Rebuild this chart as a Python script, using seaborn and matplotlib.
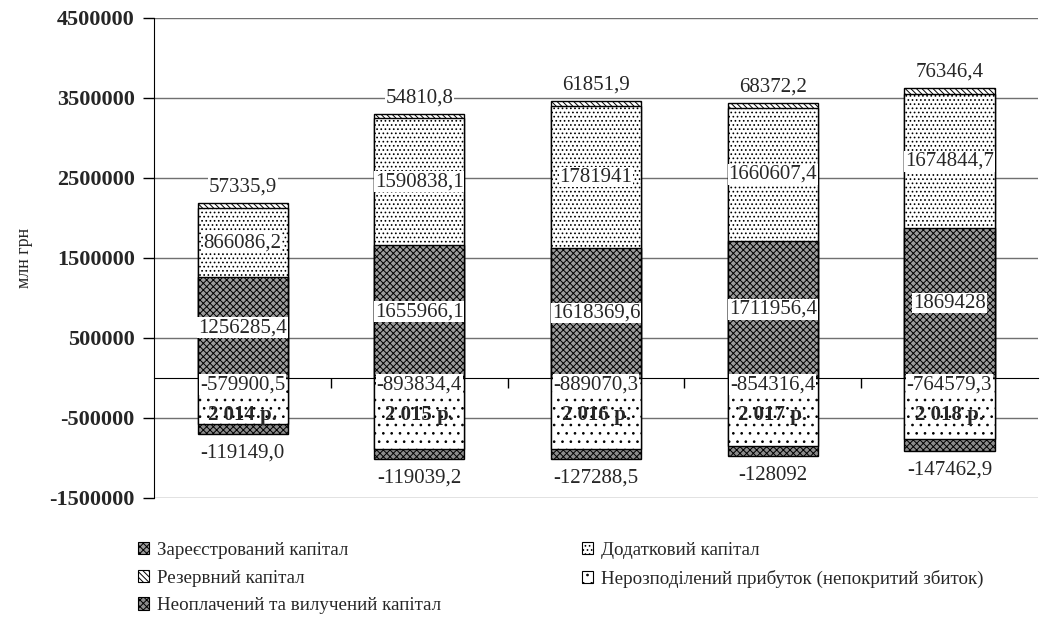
import matplotlib
matplotlib.use("Agg")
import matplotlib.pyplot as plt
from matplotlib.patches import Patch
import numpy as np
import pandas as pd
import seaborn as sns

# data (млн грн)
years = ["2 014 р.", "2 015 р.", "2 016 р.", "2 017 р.", "2 018 р."]
registered = [1256285.4, 1655966.1, 1618369.6, 1711956.4, 1869428.0]
additional = [866086.2, 1590838.1, 1781941.0, 1660607.4, 1674844.7]
reserve = [57335.9, 54810.8, 61851.9, 68372.2, 76346.4]
retained = [-579900.5, -893834.4, -889070.3, -854316.4, -764579.3]
unpaid = [-119149.0, -119039.2, -127288.5, -128092.0, -147462.9]

# decimals shown in the data labels
dec_registered = [1, 1, 1, 1, 0]
dec_additional = [1, 1, 0, 1, 1]
dec_reserve = [1, 1, 1, 1, 1]
dec_retained = [1, 1, 1, 1, 1]
dec_unpaid = [1, 1, 1, 0, 1]

names = ["Зареєстрований капітал", "Додатковий капітал", "Резервний капітал",
         "Нерозподілений прибуток (непокритий збиток)", "Неоплачений та вилучений капітал"]

sns.set_style("white")
plt.rcParams['font.family'] = ['Liberation Serif', 'DejaVu Serif']
plt.rcParams['hatch.linewidth'] = 0.7

df = pd.DataFrame({
    'year': years,
    'registered': registered,
    'additional': additional,
    'reserve': reserve,
    'retained': retained,
    'unpaid': unpaid,
})
df['mid'] = df['registered'] + df['additional']
df['top'] = df['mid'] + df['reserve']
df['bottom'] = df['retained'] + df['unpaid']

fig = plt.figure(figsize=(10.42, 6.39), dpi=100)
ax = fig.add_axes([0.148, 0.221, 0.848, 0.751])

styles = {
    'registered': dict(color='#9c9c9c', hatch='xxxxx'),
    'additional': dict(color='white', hatch='....'),
    'reserve': dict(color='white', hatch='\\\\\\\\\\\\'),
    'retained': dict(color='white', hatch='..'),
    'unpaid': dict(color='#8c8c8c', hatch='xxxxx'),
}

bar_kw = dict(edgecolor='black', linewidth=1, width=0.51, saturation=1, errorbar=None, ax=ax, zorder=2)
# stacked by overdrawing cumulative heights
sns.barplot(data=df, x='year', y='top', **styles['reserve'], **bar_kw)
sns.barplot(data=df, x='year', y='mid', **styles['additional'], **bar_kw)
sns.barplot(data=df, x='year', y='registered', **styles['registered'], **bar_kw)
sns.barplot(data=df, x='year', y='bottom', **styles['unpaid'], **bar_kw)
sns.barplot(data=df, x='year', y='retained', **styles['retained'], **bar_kw)


def fmt(v, d):
    return f"{v:.{d}f}".replace('.', ',')


box = dict(facecolor='white', edgecolor='none', pad=0.6)
lbl = dict(ha='center', va='center', fontsize=15, zorder=5, bbox=box)
for i in range(len(years)):
    ax.text(i, registered[i] / 2, fmt(registered[i], dec_registered[i]), **lbl)
    ax.text(i, registered[i] + additional[i] / 2, fmt(additional[i], dec_additional[i]), **lbl)
    ax.text(i, df['top'][i] + 0.2e6, fmt(reserve[i], dec_reserve[i]), **lbl)
    ax.text(i, -0.085e6, fmt(retained[i], dec_retained[i]), **lbl)
    ax.text(i, -0.46e6, years[i], ha='center', va='center', fontsize=15,
            fontweight='bold', zorder=5)
    ax.text(i, df['bottom'][i] - 0.24e6, fmt(unpaid[i], dec_unpaid[i]), **lbl)

ax.set_ylim(-1.5e6, 4.5e6)
ax.set_xlim(-0.5, len(years) - 0.5)
yt = np.arange(-1.5e6, 4.6e6, 1e6)
ax.set_yticks(yt)
ax.set_yticklabels([f"{int(t)}" for t in yt], fontsize=16, fontweight='bold')
ax.set_xticks(np.arange(0.5, len(years) - 1, 1.0))
ax.set_xticklabels([])
ax.tick_params(axis='x', bottom=True, direction='out', length=7, width=1, color='black')
ax.tick_params(axis='y', left=True, direction='out', length=8, width=1, color='black', pad=6)
ax.set_xlabel('')
ax.set_ylabel('млн грн', fontsize=13, labelpad=12)

ax.yaxis.grid(True, color='#707070', linewidth=1)
ax.set_axisbelow(True)
for s in ['top', 'right']:
    ax.spines[s].set_visible(False)
ax.spines['bottom'].set_position(('data', 0))
ax.spines['bottom'].set_color('black')
ax.spines['left'].set_color('black')

order = ['registered', 'reserve', 'unpaid', 'additional', 'retained']
labels = {'registered': names[0], 'additional': names[1], 'reserve': names[2],
          'retained': names[3], 'unpaid': names[4]}
handles = [Patch(facecolor=styles[k]['color'], hatch=styles[k]['hatch'], edgecolor='black',
                 linewidth=0.8, label=labels[k]) for k in order]
fig.legend(handles=handles, ncol=2, loc='upper left', bbox_to_anchor=(0.132, 0.152),
           frameon=False, fontsize=13.7, handlelength=0.6, handleheight=0.6,
           handletextpad=0.4, labelspacing=0.56, columnspacing=7.4,
           borderpad=0, borderaxespad=0)

fig.savefig('out.png', dpi=100)
